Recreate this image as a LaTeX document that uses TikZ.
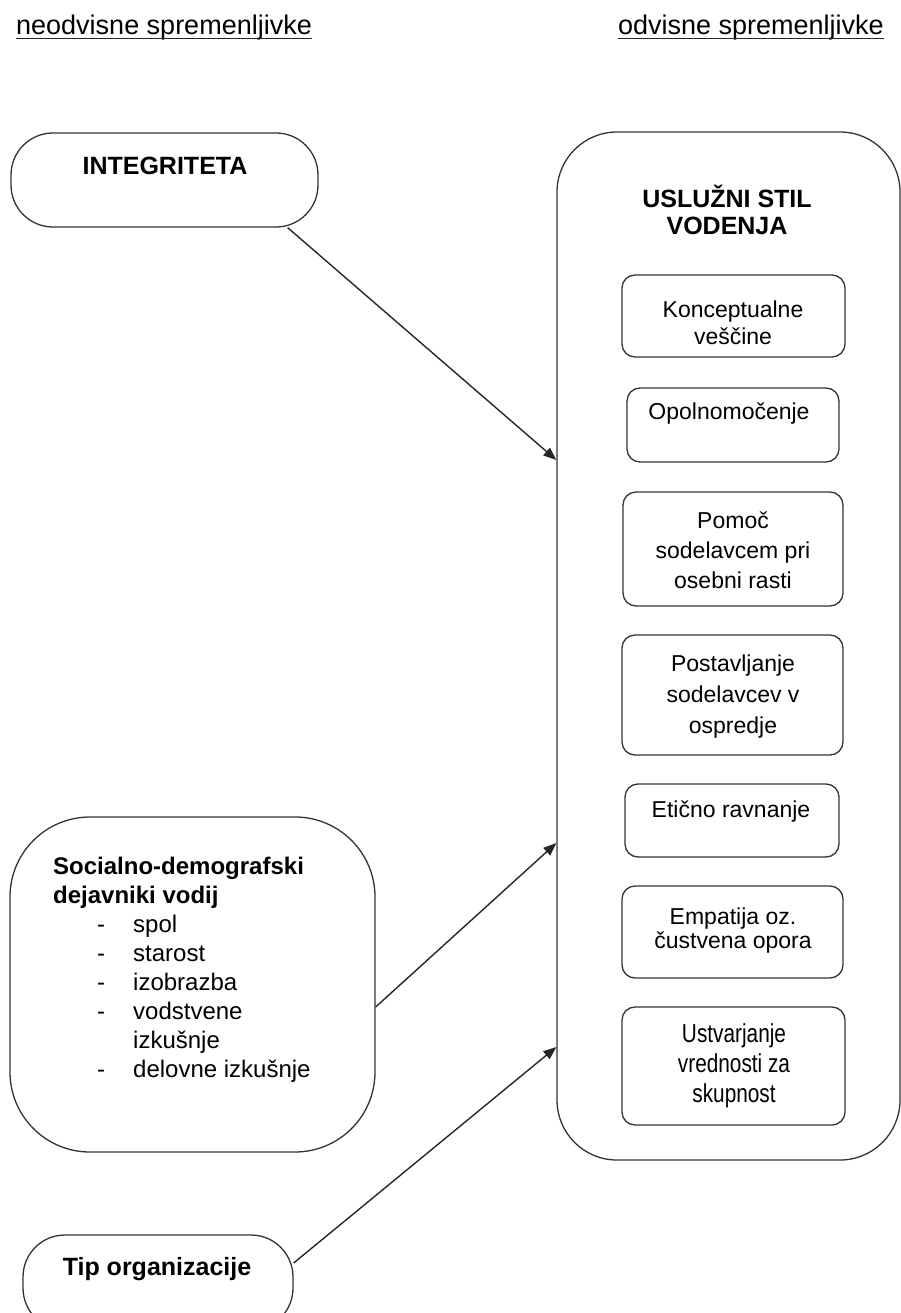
\documentclass[tikz,border=0pt]{standalone}
\usepackage{fontspec}
\setmainfont{Liberation Sans}
\newfontfamily\narrowsans[FakeStretch=0.8]{Liberation Sans}
\usetikzlibrary{arrows.meta}
\newcommand\setfs[2]{\fontsize{#1}{#2}\selectfont}
\begin{document}
% multi-line nodes are placed by the baseline of their last line
\begin{tikzpicture}[x=1pt,y=-1pt,
  roundbox/.style={draw=black!80, line width=1.3pt, rounded corners=#1, inner sep=0pt},
  boxtext/.style={inner sep=0pt, align=center, anchor=base, font=\setfs{23}{#1}},
  headtext/.style={inner sep=0pt, align=center, anchor=base, font=\setfs{25}{27}\bfseries},
  conn/.style={draw=black!85, line width=1.4pt, -{Triangle[length=13pt,width=10pt]}},
  ruleline/.style={draw=black!85, line width=1.8pt}
]
\clip (0,0) rectangle (901,1313);

% column headings
\node[anchor=base west, inner sep=0pt, font=\setfs{27}{32}] (hl) at (16,35) {neodvisne spremenljivke};
\node[anchor=base east, inner sep=0pt, font=\setfs{27}{32}] (hr) at (884,35) {odvisne spremenljivke};
\draw[ruleline] ([yshift=-3.5pt]hl.base west) -- ([yshift=-3.5pt]hl.base east);
\draw[ruleline] ([yshift=-3.5pt]hr.base west) -- ([yshift=-3.5pt]hr.base east);

% independent variables
\node[roundbox=42pt, minimum width=307pt, minimum height=94pt] (integ) at (164.5,180) {};
\node[headtext] (integ-t) at (165,175) {INTEGRITETA};

\node[roundbox=80pt, minimum width=365pt, minimum height=335pt] (soc) at (192.5,984.5) {};
\node[anchor=base west, align=left, inner sep=0pt, font=\setfs{24}{29}] (soc-t) at (53,1077)
  {\textbf{Socialno-demografski}\\
   \textbf{dejavniki vodij}\\
   \hspace*{44pt}\makebox[36pt][l]{-}spol\\
   \hspace*{44pt}\makebox[36pt][l]{-}starost\\
   \hspace*{44pt}\makebox[36pt][l]{-}izobrazba\\
   \hspace*{44pt}\makebox[36pt][l]{-}vodstvene\\
   \hspace*{80pt}izkušnje\\
   \hspace*{44pt}\makebox[36pt][l]{-}delovne izkušnje};

\node[roundbox=42pt, minimum width=270pt, minimum height=95pt] (tip) at (158,1282.5) {};
\node[headtext] (tip-t) at (157,1275) {Tip organizacije};

% dependent variable with its dimensions
\node[roundbox=60pt, minimum width=343pt, minimum height=1028pt] (usl) at (728.5,646) {};
\node[headtext] (usl-t) at (727,235) {USLUŽNI STIL\\VODENJA};

\node[roundbox=13pt, minimum width=223pt, minimum height=82pt] (d1) at (733.5,316) {};
\node[boxtext=27] (d1-t) at (733,344) {Konceptualne\\veščine};

\node[roundbox=13pt, minimum width=212pt, minimum height=74pt] (d2) at (733,425) {};
\node[boxtext=27] (d2-t) at (729,419) {Opolnomočenje};

\node[roundbox=13pt, minimum width=220pt, minimum height=114pt] (d3) at (733,549) {};
\node[boxtext=30] (d3-t) at (733,588) {Pomoč\\sodelavcem pri\\osebni rasti};

\node[roundbox=13pt, minimum width=221pt, minimum height=120pt] (d4) at (732.5,695) {};
\node[boxtext=31] (d4-t) at (733,733) {Postavljanje\\sodelavcev v\\ospredje};

\node[roundbox=13pt, minimum width=214pt, minimum height=73pt] (d5) at (732,820.5) {};
\node[boxtext=27] (d5-t) at (731,817) {Etično ravnanje};

\node[roundbox=13pt, minimum width=221pt, minimum height=92pt] (d6) at (732.5,932) {};
\node[boxtext=24] (d6-t) at (733,948) {Empatija oz.\\čustvena opora};

\node[roundbox=13pt, minimum width=223pt, minimum height=118pt] (d7) at (733.5,1066) {};
\node[inner sep=0pt, align=center, anchor=base, font=\narrowsans\setfs{26}{30}] (d7-t) at (734,1102)
  {Ustvarjanje\\vrednosti za\\skupnost};

% influences
\draw[conn] ([xshift=-31pt]integ.south east) -- (usl.west |- 0,460);
\draw[conn] (soc.east |- 0,1007) -- (usl.west |- 0,843);
\draw[conn] (tip.east |- 0,1263) -- (usl.west |- 0,1047);
\end{tikzpicture}
\end{document}
